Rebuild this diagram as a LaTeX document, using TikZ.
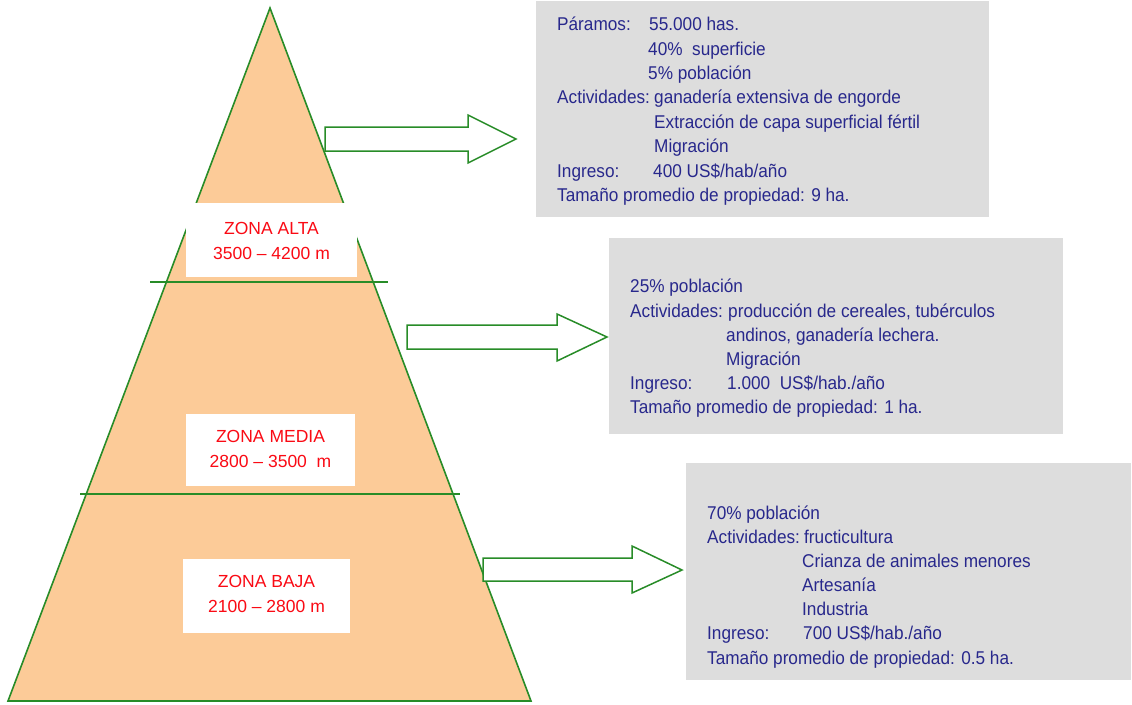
\documentclass[tikz,border=0pt]{standalone}
\usepackage{fontspec}
\setmainfont{Liberation Sans}
\newfontfamily\boxfont[FakeStretch=0.93]{Liberation Sans}
\definecolor{peach}{RGB}{252,203,152}
\definecolor{lgreen}{RGB}{40,140,40}
\definecolor{boxgray}{RGB}{221,221,221}
\definecolor{tblue}{RGB}{40,40,140}
\definecolor{zred}{RGB}{250,10,20}
\tikzset{
  zoneline/.style={draw=lgreen, line width=1.6pt},
  zonebox/.style={fill=white, inner sep=0pt},
  zonetext/.style={text=zred, font=\fontsize{17.5}{24.5}\selectfont, align=center, inner sep=0pt},
  infobox/.style={fill=boxgray, inner sep=0pt},
  info/.style={anchor=base west, inner sep=0pt, text=tblue, font=\boxfont\fontsize{18.5}{24.5}\selectfont},
  blockarrow/.style={draw=lgreen, line width=1.5pt, fill=white, line join=miter}
}
\begin{document}
\begin{tikzpicture}[x=1pt,y=-1pt]
\useasboundingbox (0,0) rectangle (1132,704);

% pyramid
\coordinate (apex) at (270,8);
\coordinate (bl) at (8,701);
\coordinate (br) at (531,701);
\draw[zoneline, fill=peach, line join=miter] (apex) -- (br) -- (bl) -- cycle;

% zone dividers
\coordinate (d1l) at (150,282); \coordinate (d1r) at (388,282);
\coordinate (d2l) at (80,494);  \coordinate (d2r) at (460,494);
\draw[zoneline] (d1l) -- (d1r);
\draw[zoneline] (d2l) -- (d2r);

% zone labels
\path[zonebox] (186,203) rectangle (357,277);
\node[zonetext] (alta) at (271.5,241) {ZONA ALTA\\3500 -- 4200 m};
\path[zonebox] (186,414) rectangle (355,486);
\node[zonetext] (media) at (270.5,449) {ZONA MEDIA\\2800 -- 3500~ m};
\path[zonebox] (183,559) rectangle (350,633);
\node[zonetext] (baja) at (266.5,594) {ZONA BAJA\\2100 -- 2800 m};

% info boxes
\path[infobox] (536,1) rectangle (989,217);
\path[infobox] (609,238) rectangle (1063,434);
\path[infobox] (686,463) rectangle (1131,680);

% box 1 text
\node[info] (a1) at (557,30) {Páramos:};
\node[info] (a2) at (649,30) {55.000 has.};
\node[info] (a3) at (648,55) {40\%\ \ superficie};
\node[info] (a4) at (648,79) {5\% población};
\node[info] (a5) at (557,103) {Actividades:};
\node[info] (a6) at (654,103) {ganadería extensiva de engorde};
\node[info] (a7) at (654,128) {Extracción de capa superficial fértil};
\node[info] (a8) at (654,152) {Migración};
\node[info] (a9) at (557,177) {Ingreso:};
\node[info] (a10) at (653,177) {400 US\$/hab/año};
\node[info] (a11) at (557,201) {Tamaño promedio de propiedad: 9 ha.};

% box 2 text
\node[info] (b1) at (630,292) {25\% población};
\node[info] (b2) at (630,317) {Actividades:};
\node[info] (b3) at (728,317) {producción de cereales, tubérculos};
\node[info] (b4) at (726,341) {andinos, ganadería lechera.};
\node[info] (b5) at (726,365) {Migración};
\node[info] (b6) at (630,389) {Ingreso:};
\node[info] (b7) at (727,389) {1.000\ \ US\$/hab./año};
\node[info] (b8) at (630,413) {Tamaño promedio de propiedad: 1 ha.};

% box 3 text
\node[info] (c1) at (707,519) {70\% población};
\node[info] (c2) at (707,543) {Actividades:};
\node[info] (c3) at (804,543) {fructicultura};
\node[info] (c4) at (802,567) {Crianza de animales menores};
\node[info] (c5) at (802,591) {Artesanía};
\node[info] (c6) at (802,615) {Industria};
\node[info] (c7) at (707,639) {Ingreso:};
\node[info] (c8) at (803,639) {700 US\$/hab./año};
\node[info] (c9) at (707,664) {Tamaño promedio de propiedad: 0.5 ha.};

% block arrows
\draw[blockarrow] (325,127) -- (468,127) -- (468,115) -- (516,139) -- (468,163) -- (468,151) -- (325,151) -- cycle;
\draw[blockarrow] (407,325) -- (557,325) -- (557,314) -- (607,337) -- (557,361) -- (557,349) -- (407,349) -- cycle;
\draw[blockarrow] (483,558) -- (632,558) -- (632,546) -- (682,570) -- (632,593) -- (632,581) -- (483,581) -- cycle;
\end{tikzpicture}
\end{document}
